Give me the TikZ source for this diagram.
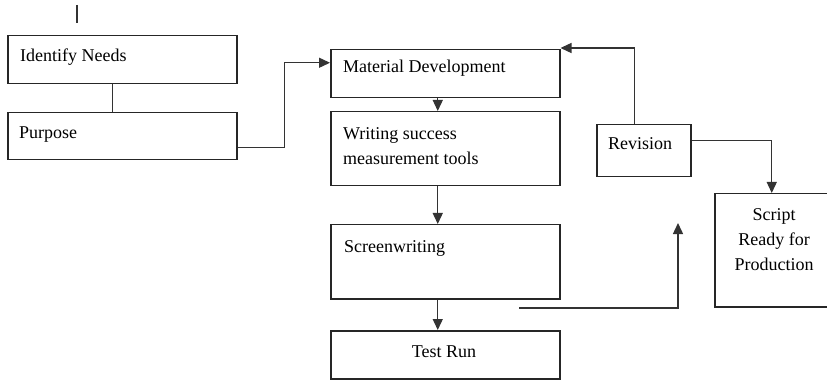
\documentclass[tikz,border=0pt]{standalone}
\usepackage{fontspec}
\setmainfont{Liberation Serif}
\usetikzlibrary{arrows.meta}
\tikzset{
  x=1pt, y=-1pt,
  box/.style={draw=black!85, line width=1.5pt, rectangle, inner sep=0pt, anchor=north west},
  txt/.style={inner sep=0pt, font=\fontsize{18}{25}\selectfont, text=black},
  conn/.style={draw=black!80, line width=1.4pt},
  arr/.style={conn, -{Triangle[length=11pt,width=10pt]}}
}
\begin{document}
\begin{tikzpicture}
\useasboundingbox (0,0) rectangle (827,382);
\begin{scope}
\clip (0,0) rectangle (827,382);
% boxes
\node[box, minimum width=229pt, minimum height=48pt] (IN) at (7,35) {};
\node[box, minimum width=229pt, minimum height=47pt] (P) at (7,112) {};
\node[box, minimum width=229pt, minimum height=48pt] (MD) at (330,49) {};
\node[box, minimum width=229pt, minimum height=74pt] (W) at (330,111) {};
\node[box, minimum width=229pt, minimum height=74pt] (S) at (330,224) {};
\node[box, minimum width=229pt, minimum height=48pt] (T) at (330,330) {};
\node[box, minimum width=94pt, minimum height=52pt] (R) at (596,124) {};
\node[box, minimum width=124pt, minimum height=113pt] (SC) at (714,193) {};
\end{scope}
% texts
\node[txt, anchor=base west] (tIN) at (20,62) {Identify Needs};
\node[txt, anchor=base west] (tP) at (19,139) {Purpose};
\node[txt, anchor=base west] (tMD) at (343,73) {Material Development};
\node[txt, anchor=base west] (tW1) at (343,140) {Writing success};
\node[txt, anchor=base west] (tW2) at (343,165) {measurement tools};
\node[txt, anchor=base west] (tS) at (344,252) {Screenwriting};
\node[txt, anchor=base] (tT) at (444,357) {Test Run};
\node[txt, anchor=base] (tR) at (640,150) {Revision};
\node[txt, anchor=base] (tSC1) at (774,220) {Script};
\node[txt, anchor=base] (tSC2) at (774,245) {Ready for};
\node[txt, anchor=base] (tSC3) at (774,270) {Production};
% free coordinates
\coordinate (k1) at (77,5);
\coordinate (k2) at (77,23);
\coordinate (f1) at (519,308);
\coordinate (f2) at (678,223);
% connectors
\draw[conn] (k1) -- (k2);
\draw[conn] ([xshift=-9.5pt]IN.south) -- ([xshift=-9.5pt]P.north);
\draw[arr] ([yshift=-11.5pt]P.east) -- ++(47,0) |- ([yshift=11pt]MD.west);
\draw[arr] ([xshift=-7.5pt]MD.south) -- ([xshift=-7.5pt]W.north);
\draw[arr] ([xshift=-7.5pt]W.south) -- ([xshift=-7.5pt]S.north);
\draw[arr] ([xshift=-7.5pt]S.south) -- ([xshift=-7.5pt]T.north);
\draw[arr] (f1) -| (f2);
\draw[arr] ([xshift=-9pt]R.north) |- ([yshift=1pt]MD.north east);
\draw[arr] ([yshift=10pt]R.east) -| ([xshift=-5pt]SC.north);
\end{tikzpicture}
\end{document}
